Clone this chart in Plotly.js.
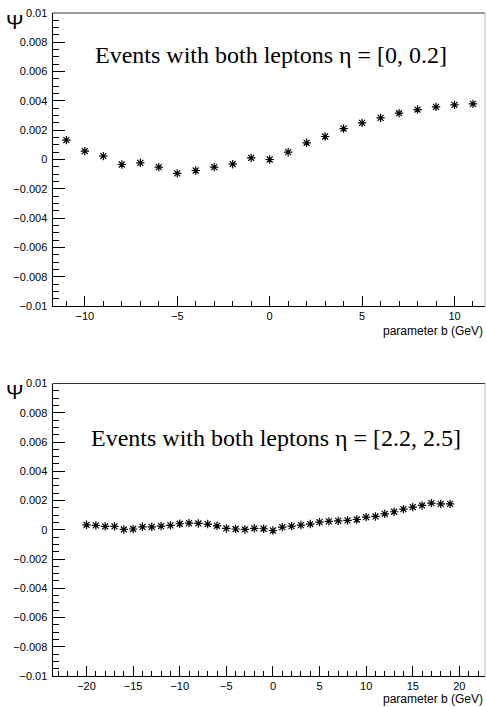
<!DOCTYPE html>
<html>
<head>
<meta charset="utf-8">
<script src="https://cdn.plot.ly/plotly-3.0.1.min.js"></script>
<style>html,body{margin:0;padding:0;background:#fff;overflow:hidden;}#chart{width:486px;height:707px;}</style>
</head>
<body>
<div id="chart"></div>
<script>
// Top panel: eta = [0, 0.2]
const topB = [-11,-10,-9,-8,-7,-6,-5,-4,-3,-2,-1,0,1,2,3,4,5,6,7,8,9,10,11];
const topPsi = [0.00132,0.00057,0.00023,-0.00034,-0.00023,-0.00052,-0.00095,-0.00075,-0.00052,-0.00032,
  0.00011,0.0,0.0005,0.00114,0.00157,0.00211,0.0025,0.00284,0.00316,0.00341,0.00359,0.00373,0.0038];
// Bottom panel: eta = [2.2, 2.5]
const botB = [-20,-19,-18,-17,-16,-15,-14,-13,-12,-11,-10,-9,-8,-7,-6,-5,-4,-3,-2,-1,0,1,2,3,4,5,6,7,8,9,10,11,12,13,14,15,16,17,18,19];
const botPsi = [0.00034,0.0003,0.00023,0.00023,0.00002,0.00005,0.0002,0.0002,0.00025,0.0003,
  0.00041,0.00045,0.00043,0.00039,0.00027,0.00009,0.00005,0.00002,0.0001,0.00007,
  -0.00005,0.00018,0.00025,0.00032,0.00039,0.00052,0.00057,0.00061,0.00064,0.0007,
  0.00086,0.00091,0.00109,0.00123,0.00141,0.00155,0.00166,0.00182,0.00177,0.00177];

const yTickVals = [-0.01,-0.008,-0.006,-0.004,-0.002,0,0.002,0.004,0.006,0.008,0.01];
const yTickText = ['\u22120.01','\u22120.008','\u22120.006','\u22120.004','\u22120.002','0','0.002','0.004','0.006','0.008','0.01'];
const topXTickVals = [-10,-5,0,5,10];
const topXTickText = ['\u221210','\u22125','0','5','10'];
const botXTickVals = [-20,-15,-10,-5,0,5,10,15,20];
const botXTickText = ['\u221220','\u221215','\u221210','\u22125','0','5','10','15','20'];

const titleTop = 'Events with both leptons \u03b7 = [0, 0.2]';
const titleBot = 'Events with both leptons \u03b7 = [2.2, 2.5]';
const yTitle = '\u03a8';
const xTitle = 'parameter b (GeV)';

const W = 486, H = 707;
const xL = 52.5/W, xR = 485/W;
const topDom = [1-306/H, 1-13/H];
const botDom = [1-676/H, 1-383.5/H];

const marker = {symbol:'asterisk-open', size:7, color:'#000', line:{color:'#000', width:1.2}};

const traces = [
  {x: topB, y: topPsi, type:'scatter', mode:'markers', marker: marker, xaxis:'x', yaxis:'y', cliponaxis:false},
  {x: botB, y: botPsi, type:'scatter', mode:'markers', marker: marker, xaxis:'x2', yaxis:'y2', cliponaxis:false}
];

const tickFont = {family:'Liberation Sans, Arial, sans-serif', size:11, color:'#000'};
function yax(dom, anchor){
  return {domain: dom, anchor: anchor, range:[-0.01,0.01], tickvals: yTickVals, ticktext: yTickText,
    ticks:'inside', ticklen:12, tickwidth:1, tickcolor:'#000', showline:true, linecolor:'#000', linewidth:1,
    showgrid:false, zeroline:false, tickfont: tickFont, ticklabelstandoff:2,
    minor:{dtick:0.0005, ticks:'inside', ticklen:6, tickwidth:1, tickcolor:'#000', showgrid:false}};
}
function xax(dom, anchor, range, tv, tt){
  return {domain: dom, anchor: anchor, range: range, tickvals: tv, ticktext: tt,
    ticks:'inside', ticklen:10, tickwidth:1, tickcolor:'#000', showline:true, linecolor:'#000', linewidth:1,
    showgrid:false, zeroline:false, tickfont: tickFont, ticklabelstandoff:0,
    minor:{dtick:1, ticks:'inside', ticklen:5, tickwidth:1, tickcolor:'#000', showgrid:false}};
}

const layout = {
  width: W, height: H,
  margin:{l:0, r:0, t:0, b:0},
  paper_bgcolor:'#fff', plot_bgcolor:'#fff',
  showlegend:false,
  xaxis: xax([xL,xR], 'y', [-11.75, 11.65], topXTickVals, topXTickText),
  yaxis: yax(topDom, 'x'),
  xaxis2: xax([xL,xR], 'y2', [-23.65, 22.75], botXTickVals, botXTickText),
  yaxis2: yax(botDom, 'x2'),
  shapes: [
    {type:'line', xref:'paper', yref:'paper', x0:xL, x1:xR, y0:topDom[1], y1:topDom[1], line:{color:'#333', width:1}},
    {type:'line', xref:'paper', yref:'paper', x0:xR, x1:xR, y0:topDom[0], y1:topDom[1], line:{color:'#bbb', width:1}},
    {type:'line', xref:'paper', yref:'paper', x0:xL, x1:xR, y0:botDom[1], y1:botDom[1], line:{color:'#333', width:1}},
    {type:'line', xref:'paper', yref:'paper', x0:xR, x1:xR, y0:botDom[0], y1:botDom[1], line:{color:'#bbb', width:1}}
  ],
  annotations: [
    {text: titleTop, xref:'paper', yref:'paper', x:93/W, y:1-55/H, xanchor:'left', yanchor:'middle', showarrow:false,
     font:{family:'Liberation Serif, Times New Roman, serif', size:24, color:'#000'}},
    {text: titleBot, xref:'paper', yref:'paper', x:89/W, y:1-438/H, xanchor:'left', yanchor:'middle', showarrow:false,
     font:{family:'Liberation Serif, Times New Roman, serif', size:24, color:'#000'}},
    {text: yTitle, xref:'paper', yref:'paper', x:15/W, y:1-21/H, xanchor:'center', yanchor:'middle', showarrow:false,
     font:{family:'Liberation Sans, Arial, sans-serif', size:21, color:'#000'}},
    {text: yTitle, xref:'paper', yref:'paper', x:15/W, y:1-391/H, xanchor:'center', yanchor:'middle', showarrow:false,
     font:{family:'Liberation Sans, Arial, sans-serif', size:21, color:'#000'}},
    {text: xTitle, xref:'paper', yref:'paper', x:485/W, y:1-331/H, xanchor:'right', yanchor:'middle', showarrow:false,
     font:{family:'Liberation Sans, Arial, sans-serif', size:12, color:'#000'}},
    {text: xTitle, xref:'paper', yref:'paper', x:485/W, y:1-698.5/H, xanchor:'right', yanchor:'middle', showarrow:false,
     font:{family:'Liberation Sans, Arial, sans-serif', size:12, color:'#000'}}
  ]
};

Plotly.newPlot('chart', traces, layout, {staticPlot:true, displayModeBar:false});
</script>
</body>
</html>
